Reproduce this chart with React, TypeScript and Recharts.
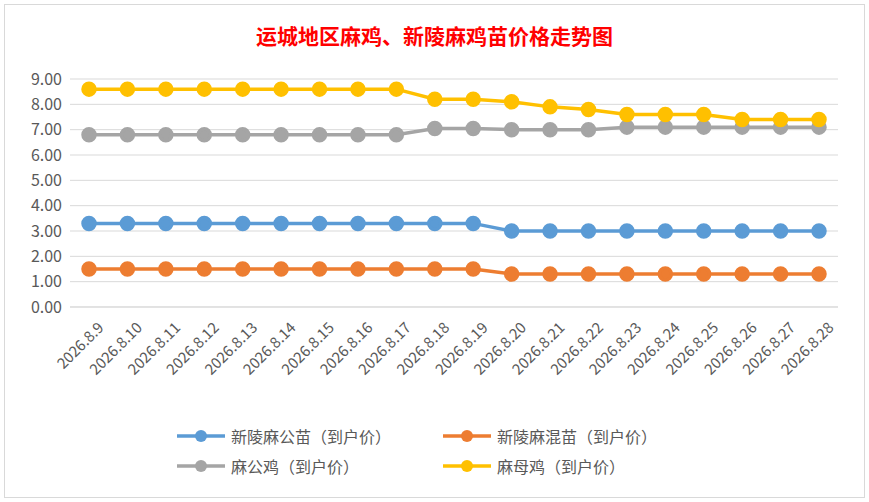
import React from "react";
import { LineChart, Line, XAxis, YAxis, CartesianGrid } from "recharts";

const dates = [
  "2026.8.9", "2026.8.10", "2026.8.11", "2026.8.12", "2026.8.13", "2026.8.14", "2026.8.15",
  "2026.8.16", "2026.8.17", "2026.8.18", "2026.8.19", "2026.8.20", "2026.8.21", "2026.8.22",
  "2026.8.23", "2026.8.24", "2026.8.25", "2026.8.26", "2026.8.27", "2026.8.28",
];
const xinlingGong = [3.3, 3.3, 3.3, 3.3, 3.3, 3.3, 3.3, 3.3, 3.3, 3.3, 3.3, 3.0, 3.0, 3.0, 3.0, 3.0, 3.0, 3.0, 3.0, 3.0];
const xinlingHun = [1.5, 1.5, 1.5, 1.5, 1.5, 1.5, 1.5, 1.5, 1.5, 1.5, 1.5, 1.3, 1.3, 1.3, 1.3, 1.3, 1.3, 1.3, 1.3, 1.3];
const maGongJi = [6.8, 6.8, 6.8, 6.8, 6.8, 6.8, 6.8, 6.8, 6.8, 7.05, 7.05, 7.0, 7.0, 7.0, 7.1, 7.1, 7.1, 7.1, 7.1, 7.1];
const maMuJi = [8.6, 8.6, 8.6, 8.6, 8.6, 8.6, 8.6, 8.6, 8.6, 8.2, 8.2, 8.1, 7.9, 7.8, 7.6, 7.6, 7.6, 7.4, 7.4, 7.4];
const yTicks = [0, 1, 2, 3, 4, 5, 6, 7, 8, 9];

const series = [
  { key: "a", name: "新陵麻公苗（到户价）", color: "#5B9BD5", values: xinlingGong },
  { key: "b", name: "新陵麻混苗（到户价）", color: "#ED7D31", values: xinlingHun },
  { key: "c", name: "麻公鸡（到户价）", color: "#A5A5A5", values: maGongJi },
  { key: "d", name: "麻母鸡（到户价）", color: "#FFC000", values: maMuJi },
];

const data = dates.map((d, i) => {
  const row: Record<string, string | number> = { date: d };
  series.forEach((s) => (row[s.key] = s.values[i]));
  return row;
});

const font = "'Noto Sans CJK SC', 'Noto Sans', sans-serif";

const AngledTick = (props: any) => {
  const { x, y, payload } = props;
  return (
    <text x={x + 6} y={y + 4} transform={`rotate(-45 ${x + 6} ${y + 4})`} textAnchor="end"
      fill="#595959" fontSize={15} fontFamily={font} dominantBaseline="hanging">
      {payload.value}
    </text>
  );
};

export default function App() {
  const legendPos = [
    { left: 177, top: 424 },
    { left: 443, top: 424 },
    { left: 177, top: 454 },
    { left: 443, top: 454 },
  ];
  return (
    <div style={{ position: "absolute", left: 0, top: 0, width: 869, height: 502, background: "#fff", fontFamily: font }}>
      <div style={{ position: "absolute", left: 4, top: 4, width: 859, height: 492, border: "1px solid #d9d9d9" }} />
      <div style={{ position: "absolute", top: 20, width: 869, textAlign: "center", color: "#FF0000", fontSize: 21, fontWeight: "bold" }}>
        运城地区麻鸡、新陵麻鸡苗价格走势图
      </div>
      <div style={{ position: "absolute", left: 0, top: 0 }}>
        <LineChart width={869} height={400} data={data} margin={{ top: 79, right: 31, bottom: 0, left: 0 }}>
          <CartesianGrid vertical={false} stroke="#d9d9d9" />
          <XAxis dataKey="date" interval={0} height={93} padding={{ left: 19, right: 19 }} tick={<AngledTick />}
            tickLine={false} axisLine={{ stroke: "#d9d9d9" }} />
          <YAxis width={70} domain={[0, 9]} ticks={yTicks} tickFormatter={(v) => v.toFixed(2)} axisLine={false}
            tickLine={false} tick={{ fill: "#595959", fontSize: 16, fontFamily: font }} />
          {series.map((s) => (
            <Line key={s.key} dataKey={s.key} name={s.name} stroke={s.color} strokeWidth={3.5}
              dot={{ r: 6, fill: s.color, stroke: s.color }} isAnimationActive={false} />
          ))}
        </LineChart>
      </div>
      {series.map((s, i) => (
        <div key={s.key} style={{ position: "absolute", left: legendPos[i].left, top: legendPos[i].top, display: "flex", alignItems: "center", fontSize: 16, color: "#595959" }}>
          <svg width={50} height={20}>
            <line x1={0} y1={10} x2={48} y2={10} stroke={s.color} strokeWidth={3.5} />
            <circle cx={24} cy={10} r={6} fill={s.color} />
          </svg>
          <span style={{ marginLeft: 4 }}>{s.name}</span>
        </div>
      ))}
    </div>
  );
}
